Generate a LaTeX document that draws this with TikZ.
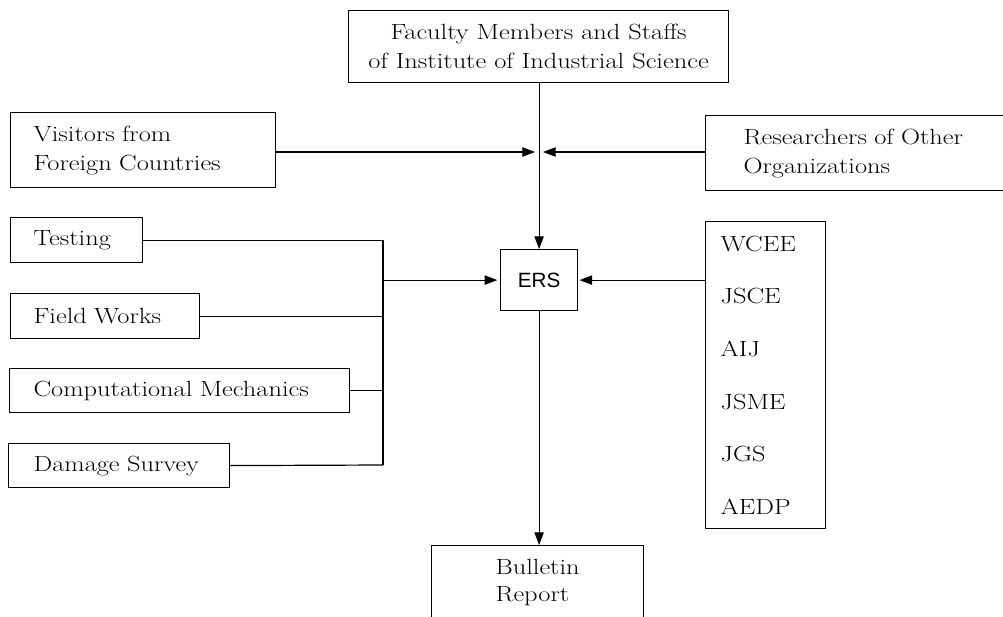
\documentclass[tikz,border=0pt]{standalone}
\usepackage{fontspec}
\setmainfont{Latin Modern Roman}[FakeStretch=1.2]
\newfontfamily\ersfont{Liberation Sans}
\usetikzlibrary{arrows.meta}
\newcommand\ind[1]{\hspace*{#1}}
\begin{document}
\begin{tikzpicture}[x=0.75pt,y=-0.75pt,
  box/.style={draw, line width=0.9pt, inner sep=0pt, anchor=north west,
    font=\fontsize{16.5}{21.75}\selectfont},
  lbox/.style={box, align=left, text width=#1},
  conn/.style={line width=0.9pt},
  arr/.style={line width=0.9pt, -{Triangle[length=9.5pt,width=7pt]}},
]
\path[use as bounding box, clip] (0,0) rectangle (1003,617);

% boxes
\node[box, align=center, minimum width=285pt, minimum height=54pt] (fac) at (348,10)
  {Faculty Members and Staffs\\of Institute of Industrial Science};
\node[lbox=198.75pt, minimum height=56.25pt] (vis) at (10,112)
  {\ind{17.25pt}Visitors from\\\ind{17.25pt}Foreign Countries};
\node[lbox=232.5pt, minimum height=56.25pt] (res) at (705,115)
  {\ind{28.5pt}Researchers of Other\\\ind{28.5pt}Organizations};
\node[box, minimum width=57.75pt, minimum height=45.75pt, font=\ersfont\fontsize{15.5}{18}\selectfont] (ers) at (500,249) {ERS};
\node[lbox=99pt, minimum height=33.75pt] (test) at (10,217)
  {\ind{17.25pt}Testing};
\node[lbox=141.75pt, minimum height=33.75pt] (field) at (10,293)
  {\ind{17.25pt}Field Works};
\node[lbox=255pt, minimum height=33pt] (comp) at (9,368)
  {\ind{18pt}Computational Mechanics};
\node[lbox=165.75pt, minimum height=33pt] (dmg) at (8,443)
  {\ind{18.75pt}Damage Survey};
\node[lbox=90pt, minimum height=230.25pt, font=\fontsize{16.5}{39.45}\selectfont] (list) at (705,221)
  {\ind{11.25pt}WCEE\\\ind{11.25pt}JSCE\\\ind{11.25pt}AIJ\\\ind{11.25pt}JSME\\\ind{11.25pt}JGS\\\ind{11.25pt}AEDP};
\node[box, align=left, minimum width=159pt, minimum height=55.5pt,
  font=\fontsize{16.5}{20.25}\selectfont] (bul) at (431,545)
  {Bulletin\\Report};

% junctions
\coordinate (mL) at (535,152);
\coordinate (mR) at (543,152);
\coordinate (jb) at (383,465);

% connectors
\draw[arr] (fac.south -| ers.north) -- (ers.north);
\draw[arr] (vis.east |- mL) -- (mL);
\draw[arr] (res.west |- mR) -- (mR);
\draw[conn] (test.east) -| (jb);
\draw[conn] (dmg.east) -- (jb);
\draw[conn] (field.east) -- (field.east -| jb);
\draw[conn] (comp.east) -- (comp.east -| jb);
\draw[arr] (jb |- ers.west) -- ([xshift=-2pt]ers.west);
\draw[arr] (list.west |- ers.east) -- ([xshift=1pt]ers.east);
\draw[arr] (ers.south) -- (ers.south |- bul.north);
\end{tikzpicture}
\end{document}
